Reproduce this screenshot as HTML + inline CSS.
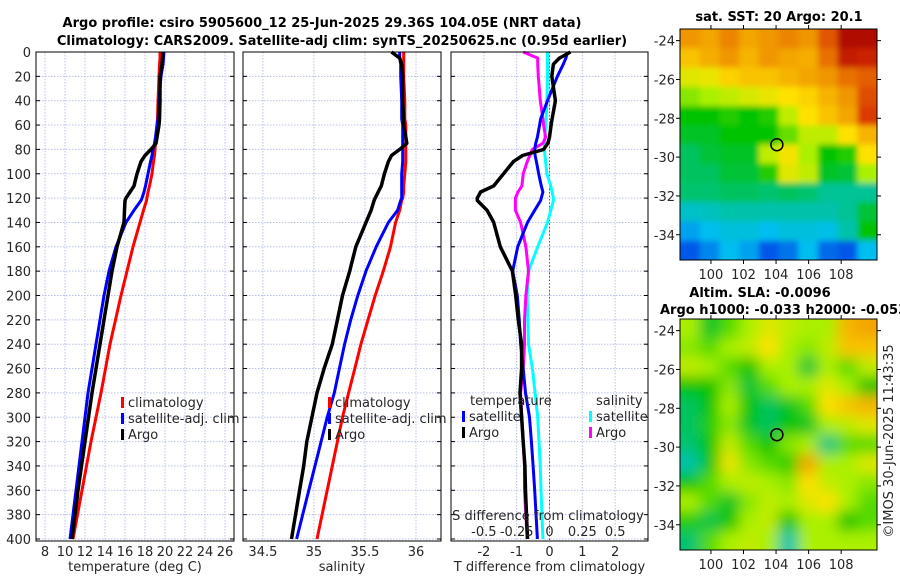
<!DOCTYPE html>
<html><head><meta charset="utf-8">
<style>
html,body{margin:0;padding:0;background:#fff;}
svg{display:block;font-family:"DejaVu Sans","Liberation Sans",sans-serif;}
.tk{font-size:13px;fill:#262626;}
.ttl{font-size:13px;font-weight:bold;fill:#000;}
</style></head><body>
<svg id="c" width="900" height="580" viewBox="0 0 900 580">
<defs>
<filter id="bl1" x="-5%" y="-5%" width="110%" height="110%"><feGaussianBlur stdDeviation="3"/></filter>
<filter id="bl2" x="-5%" y="-5%" width="110%" height="110%"><feGaussianBlur stdDeviation="7"/></filter>
<clipPath id="cm1"><rect x="680" y="29" width="197" height="231"/></clipPath>
<clipPath id="cm2"><rect x="680" y="319" width="197" height="231"/></clipPath>
</defs>
<text class="ttl" x="322" y="27" text-anchor="middle">Argo profile: csiro 5905600_12 25-Jun-2025 29.36S 104.05E (NRT data)</text>
<text class="ttl" x="342" y="45" text-anchor="middle">Climatology: CARS2009. Satellite-adj clim: synTS_20250625.nc (0.95d earlier)</text>
<text class="ttl" x="779" y="21" text-anchor="middle">sat. SST: 20 Argo: 20.1</text>
<text class="ttl" x="760" y="297" text-anchor="middle">Altim. SLA: -0.0096</text>
<text class="ttl" x="660" y="314">Argo h1000: -0.033 h2000: -0.053</text>
<text class="tk" transform="translate(893,441) rotate(-90)" text-anchor="middle">©IMOS 30-Jun-2025 11:43:35</text>
</svg>
<script>
// ---- data ----
const depths = [0,5,10,20,40,55,60,70,75,80,85,90,100,110,115,120,122,130,140,160,180,200,220,240,260,280,300,320,340,360,400];
const tempClim = [19.5,19.5,19.45,19.4,19.3,19.25,19.2,19.1,19.05,19.0,18.95,18.85,18.7,18.45,18.3,18.2,18.15,17.85,17.5,16.8,16.2,15.6,15.05,14.5,14.05,13.6,13.1,12.6,12.15,11.7,10.8];
const tempSat = [19.9,19.85,19.8,19.6,19.4,19.3,19.2,19.05,18.95,18.8,18.7,18.55,18.3,18.05,17.9,17.7,17.6,16.9,16.1,15.1,14.4,13.9,13.5,13.1,12.7,12.3,12.0,11.7,11.4,11.1,10.5];
const tempArgo = [19.8,19.75,19.7,19.5,19.5,19.45,19.4,19.2,19.1,18.6,18.0,17.6,17.2,16.9,16.5,16.1,16.0,15.95,15.9,15.2,14.7,14.3,13.9,13.5,13.1,12.7,12.35,12.0,11.65,11.3,10.7];
const salClim = [35.88,35.88,35.88,35.88,35.89,35.89,35.9,35.9,35.9,35.9,35.9,35.9,35.89,35.88,35.88,35.87,35.86,35.84,35.8,35.75,35.68,35.6,35.53,35.46,35.4,35.34,35.28,35.23,35.18,35.13,35.03];
const salSat = [35.84,35.84,35.85,35.85,35.86,35.86,35.87,35.87,35.87,35.87,35.87,35.87,35.86,35.86,35.86,35.86,35.85,35.82,35.73,35.61,35.51,35.43,35.36,35.3,35.25,35.2,35.13,35.07,35.01,34.95,34.83];
const salArgo = [35.76,35.84,35.86,35.87,35.87,35.88,35.88,35.9,35.91,35.84,35.76,35.73,35.69,35.66,35.63,35.6,35.59,35.56,35.51,35.41,35.35,35.28,35.23,35.18,35.1,35.03,34.98,34.93,34.9,34.86,34.78];
const dTSat = [0.55,0.5,0.42,0.24,-0.06,-0.27,-0.3,-0.37,-0.42,-0.45,-0.44,-0.4,-0.33,-0.25,-0.2,-0.25,-0.27,-0.45,-0.67,-0.97,-1.12,-0.98,-0.92,-0.88,-0.8,-0.73,-0.61,-0.55,-0.5,-0.45,-0.37];
const dTArgo = [0.64,0.3,0.12,0.07,0.18,0.08,0.05,0.0,-0.05,-0.18,-0.82,-1.1,-1.4,-1.7,-2.1,-2.2,-2.2,-1.9,-1.7,-1.5,-1.13,-1.03,-0.95,-0.85,-0.85,-0.9,-0.85,-0.8,-0.75,-0.73,-0.67];
const dSSat = [-0.015,-0.015,-0.015,-0.015,-0.02,-0.025,-0.03,-0.035,-0.037,-0.037,-0.035,-0.03,-0.02,0.01,0.02,0.03,0.03,0.01,-0.015,-0.09,-0.16,-0.17,-0.165,-0.16,-0.13,-0.11,-0.09,-0.08,-0.07,-0.065,-0.05];
const dSArgo = [-0.2,-0.09,-0.09,-0.085,-0.07,-0.05,-0.045,-0.03,-0.05,-0.13,-0.15,-0.17,-0.2,-0.21,-0.24,-0.26,-0.26,-0.26,-0.22,-0.18,-0.16,-0.18,-0.19,-0.19,-0.2,-0.22,-0.21,-0.2,-0.19,-0.19,-0.17];
const depthTicks = [0,20,40,60,80,100,120,140,160,180,200,220,240,260,280,300,320,340,360,380,400];
const tempTicks = [8,10,12,14,16,18,20,22,24,26];
const salTicks = [34.5,35,35.5,36];
const dTTicks = [-2,-1,0,1,2];
const dSTicks = [-0.5,-0.25,0,0.25,0.5];
const dSTickLabels = ['-0.5','-0.25','0','0.25','0.5'];
const mapLonTicks = [100,102,104,106,108];
const mapLatTicks = [-24,-26,-28,-30,-32,-34];
const argoLon = 104.05, argoLat = -29.36;
const sstGrid = [
[0.78,0.76,0.8,0.76,0.78,0.8,0.78,0.85,0.96,0.96],
[0.72,0.75,0.78,0.74,0.78,0.76,0.75,0.82,0.93,0.92],
[0.65,0.66,0.7,0.72,0.72,0.74,0.76,0.78,0.82,0.84],
[0.58,0.6,0.62,0.64,0.66,0.68,0.7,0.74,0.78,0.86],
[0.5,0.5,0.52,0.5,0.52,0.62,0.68,0.72,0.76,0.88],
[0.48,0.48,0.5,0.5,0.5,0.56,0.62,0.62,0.68,0.74],
[0.45,0.47,0.48,0.48,0.62,0.67,0.6,0.5,0.52,0.68],
[0.45,0.45,0.47,0.47,0.52,0.65,0.62,0.48,0.47,0.6],
[0.44,0.44,0.45,0.45,0.44,0.45,0.44,0.42,0.42,0.42],
[0.37,0.38,0.4,0.4,0.4,0.4,0.4,0.4,0.42,0.47],
[0.3,0.33,0.35,0.35,0.33,0.35,0.35,0.34,0.4,0.5],
[0.22,0.27,0.33,0.3,0.22,0.25,0.33,0.24,0.22,0.33]];
const slaGrid = [
[0.6,0.48,0.55,0.6,0.65,0.62,0.6,0.6,0.74,0.76],
[0.58,0.55,0.6,0.62,0.68,0.6,0.58,0.62,0.72,0.72],
[0.62,0.6,0.55,0.5,0.6,0.6,0.47,0.6,0.55,0.62],
[0.5,0.5,0.58,0.47,0.55,0.6,0.6,0.65,0.6,0.5],
[0.45,0.5,0.6,0.5,0.45,0.48,0.55,0.68,0.72,0.74],
[0.45,0.52,0.58,0.48,0.45,0.5,0.48,0.6,0.62,0.65],
[0.44,0.5,0.62,0.55,0.5,0.58,0.6,0.43,0.55,0.55],
[0.4,0.5,0.66,0.58,0.55,0.52,0.76,0.6,0.6,0.65],
[0.5,0.55,0.6,0.62,0.6,0.58,0.68,0.62,0.6,0.58],
[0.6,0.55,0.48,0.58,0.62,0.6,0.65,0.68,0.6,0.55],
[0.52,0.46,0.5,0.6,0.62,0.5,0.6,0.6,0.5,0.55],
[0.44,0.55,0.6,0.62,0.6,0.4,0.6,0.6,0.6,0.6]];
// ---- helpers ----
const NS='http://www.w3.org/2000/svg';
const svg=document.getElementById('c');
function el(tag,attrs,parent){const e=document.createElementNS(NS,tag);for(const k in attrs)e.setAttribute(k,attrs[k]);(parent||svg).appendChild(e);return e;}
const Y0=52,Y1=539;
const yD=d=>Y0+(d/400)*(Y1-Y0);
function lin(d0,d1,r0,r1){return v=>r0+(v-d0)/(d1-d0)*(r1-r0);}
const panels=[
 {x0:36,x1:234,xs:lin(7.1,26.9,36,234),ticks:tempTicks,labels:tempTicks.map(String),title:'temperature (deg C)',name:'temperature'},
 {x0:243,x1:441,xs:lin(34.305,36.245,243,441),ticks:salTicks,labels:salTicks.map(String),title:'salinity',name:'salinity'},
 {x0:451,x1:648,xs:lin(-3,3,451,648),ticks:dTTicks,labels:dTTicks.map(String),title:'T difference from climatology',name:'difference'}
];
panels.forEach((p,pi)=>{
 const g=el('g',{});
 
 
 el('rect',{x:p.x0,y:Y0,width:p.x1-p.x0,height:Y1-Y0+2,fill:'#fff'},g);
 depthTicks.forEach(d=>{
  const ln=el('line',{x1:p.x0,x2:p.x1,y1:yD(d),y2:yD(d),stroke:'#b8c0e8','stroke-width':1,'stroke-dasharray':'1.5,1.5'},g);
  
  
  el('line',{x1:p.x0,x2:p.x0+4,y1:yD(d),y2:yD(d),stroke:'#000'},g);
  el('line',{x1:p.x1-4,x2:p.x1,y1:yD(d),y2:yD(d),stroke:'#000'},g);
  if(pi===0){const t=el('text',{x:p.x0-5,y:yD(d)+5,'text-anchor':'end',class:'tk'},g);t.textContent=d;
   }
 });
 p.ticks.forEach((v,i)=>{
  const x=p.xs(v);
  const ln=el('line',{x1:x,x2:x,y1:Y0,y2:Y1+2,stroke:'#b8c0e8','stroke-width':1,'stroke-dasharray':'1.5,1.5'},g);
  
  
  const t=el('text',{x:x,y:556,'text-anchor':'middle',class:'tk'},g);t.textContent=p.labels[i];
  
 });
 const at=el('text',{x:(p.x0+p.x1)/2,y:571,'text-anchor':'middle',class:'tk'},g);at.textContent=p.title;
 
 p.g=g;
});
const xs3=panels[2].xs, sS=lin(-0.75,0.75,451,648);
const zl=el('line',{x1:xs3(0),x2:xs3(0),y1:Y0,y2:Y1+2,stroke:'#556b2f','stroke-width':1,'stroke-dasharray':'1.5,2'});

function series(vals,xs,color,w,name){
 const pts=vals.map((v,i)=>xs(v).toFixed(1)+','+yD(depths[i]).toFixed(1)).join(' ');
 const pl=el('polyline',{points:pts,fill:'none',stroke:color,'stroke-width':w,'stroke-linejoin':'round'});
 
 
}
series(tempClim,panels[0].xs,'#ff0000',3,'temp-climatology-line');
series(tempSat,panels[0].xs,'#0000ff',3,'temp-satellite-line');
series(tempArgo,panels[0].xs,'#000',3.5,'temp-argo-line');
series(salClim,panels[1].xs,'#ff0000',3,'sal-climatology-line');
series(salSat,panels[1].xs,'#0000ff',3,'sal-satellite-line');
series(salArgo,panels[1].xs,'#000',3.5,'sal-argo-line');
series(dSSat,sS,'#00ffff',3,'dS-satellite-line');
series(dSArgo,sS,'#ff00ff',3,'dS-argo-line');
series(dTSat,xs3,'#0000ff',3,'dT-satellite-line');
series(dTArgo,xs3,'#000',3.5,'dT-argo-line');
dSTicks.forEach((v,i)=>{const t=el('text',{x:sS(v),y:536,'text-anchor':'middle',class:'tk'});t.textContent=dSTickLabels[i];
 });
{const t=el('text',{x:548,y:520,'text-anchor':'middle',class:'tk'});t.textContent='S difference from climatology';
 }
panels.forEach(p=>{const r=el('rect',{x:p.x0,y:Y0,width:p.x1-p.x0,height:Y1-Y0+2,fill:'none',stroke:'#000','stroke-width':1});
 });
function legend(x,y,items,name){
 const g=el('g',{});
 
 
 items.forEach((it,i)=>{
  const yy=y+i*16;
  if(it[1]){el('rect',{x:x,y:yy-10,width:3,height:11,fill:it[1]},g);}
  const t=el('text',{x:x+(it[1]?7:0),y:yy,class:'tk',fill:'#000'},g);t.textContent=it[0];
 });
}
legend(121,407,[['climatology','#ff0000'],['satellite-adj. clim','#0000ff'],['Argo','#000']],'temp-legend');
legend(328,407,[['climatology','#ff0000'],['satellite-adj. clim','#0000ff'],['Argo','#000']],'sal-legend');
legend(470,405,[['temperature',null]],'dT-legend-title');
legend(462,421,[['satellite','#0000ff'],['Argo','#000']],'dT-legend');
legend(596,405,[['salinity',null]],'dS-legend-title');
legend(589,421,[['satellite','#00ffff'],['Argo','#ff00ff']],'dS-legend');
// colormap
const cmapStops=[[0,[0,0,140]],[0.2,[0,70,230]],[0.33,[0,190,240]],[0.42,[0,195,150]],[0.5,[0,195,0]],[0.6,[170,240,0]],[0.68,[255,225,0]],[0.78,[240,150,0]],[0.9,[215,40,0]],[1,[150,0,0]]];
function cmap(v){
 for(let i=1;i<cmapStops.length;i++){
  if(v<=cmapStops[i][0]){const a=cmapStops[i-1],b=cmapStops[i];const t=(v-a[0])/(b[0]-a[0]);
   return 'rgb('+a[1].map((c,k)=>Math.round(c+(b[1][k]-c)*t)).join(',')+')';}
 }
 return 'rgb(150,0,0)';
}
function drawMap(grid,my0,clip,filt,name){
 const mx0=680,mx1=877,my1=my0+231;
 const lonS=lin(98.1,110.2,mx0,mx1), latS=lin(-23.4,-35.3,my0,my1);
 const g=el('g',{'clip-path':'url(#'+clip+')'});
 
 
 const gi=el('g',{filter:'url(#'+filt+')'},g);
 const rows=grid.length, cols=grid[0].length;
 const cw=(mx1-mx0)/cols, ch=(my1-my0)/rows;
 for(let r=0;r<rows;r++)for(let c=0;c<cols;c++){
  const rc=el('rect',{x:mx0+c*cw-(c===0?15:0),y:my0+r*ch-(r===0?15:0),width:cw+1+(c===0||c===cols-1?15:0),height:ch+1+(r===0||r===rows-1?15:0),fill:cmap(grid[r][c])},gi);
  
  
 }
 const m=el('circle',{cx:lonS(argoLon),cy:latS(argoLat),r:6,fill:'none',stroke:'#000','stroke-width':1.5});
 
 
 el('rect',{x:mx0,y:my0,width:mx1-mx0,height:my1-my0,fill:'none',stroke:'#000'});
 mapLonTicks.forEach(v=>{const x=lonS(v);
  el('line',{x1:x,x2:x,y1:my0,y2:my0-4,stroke:'#000'});el('line',{x1:x,x2:x,y1:my1,y2:my1+4,stroke:'#000'});
  const t=el('text',{x:x,y:my1+19,'text-anchor':'middle',class:'tk'});t.textContent=v;
  });
 mapLatTicks.forEach(v=>{const y=latS(v);
  el('line',{x1:mx0,x2:mx0-4,y1:y,y2:y,stroke:'#000'});el('line',{x1:mx1,x2:mx1+4,y1:y,y2:y,stroke:'#000'});
  const t=el('text',{x:mx0-5,y:y+5,'text-anchor':'end',class:'tk'});t.textContent=v;
  });
}
drawMap(sstGrid,29,'cm1','bl1','sst-map');
drawMap(slaGrid,319,'cm2','bl2','sla-map');
</script>
</body></html>
